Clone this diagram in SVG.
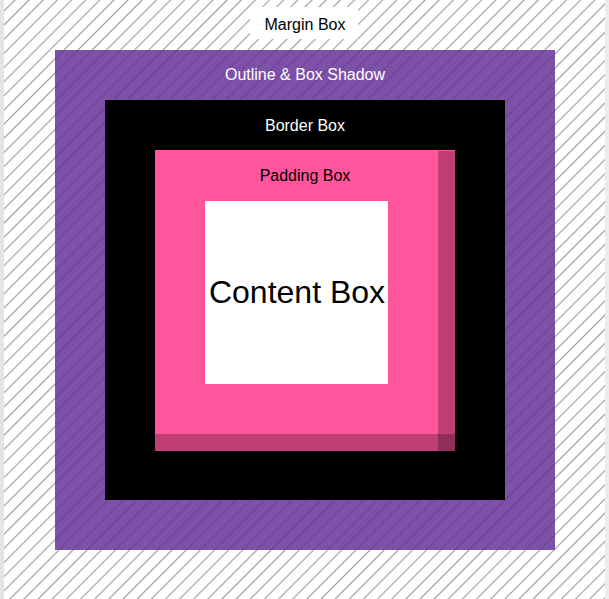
<svg xmlns="http://www.w3.org/2000/svg" width="609" height="599" viewBox="0 0 609 599">
  <style>
    .lbl { font-family: "Liberation Sans", Arial, sans-serif; font-size: 16px; text-anchor: middle; }
    .white { fill: #ffffff; }
    .black { fill: #000000; }
    .big { font-family: "Liberation Sans", Arial, sans-serif; font-size: 32px; text-anchor: middle; fill: #000000; }
    .shadow { fill: #000000; fill-opacity: 0.25; }
  </style>
  <defs>
    <pattern id="hatch" patternUnits="userSpaceOnUse" width="10" height="10" patternTransform="rotate(45)">
      <rect x="0" y="0" width="1.1" height="10" fill="#9a9a9a"/>
    </pattern>
  </defs>
  <rect x="0" y="0" width="609" height="599" fill="#ffffff"/>
  <rect x="0" y="0" width="4" height="599" fill="#e4e4e4"/>
  <rect x="605" y="0" width="4" height="599" fill="#ececec"/>
  <g id="margin-box">
    <rect x="4" y="0" width="601" height="599" fill="url(#hatch)"/>
    <rect x="250" y="7" width="108" height="32" fill="#ffffff"/>
    <text class="lbl black" x="305" y="30">Margin Box</text>
  </g>
  <g id="outline-box">
    <rect x="55" y="50" width="500" height="500" fill="#663399" fill-opacity="0.85"/>
    <text class="lbl white" x="305" y="80">Outline &amp; Box Shadow</text>
  </g>
  <g id="border-box">
    <rect x="105" y="100" width="400" height="400" fill="#000000"/>
    <text class="lbl white" x="305" y="131">Border Box</text>
  </g>
  <g id="padding-box">
    <rect x="155" y="150" width="300" height="301" fill="#ff559c"/>
    <rect class="shadow" x="438" y="151" width="17" height="300"/>
    <rect class="shadow" x="155" y="434" width="300" height="17"/>
    <text class="lbl black" x="305" y="181">Padding Box</text>
  </g>
  <g id="content-box">
    <rect x="205" y="201" width="183" height="183" fill="#ffffff"/>
    <text class="big" x="297" y="303">Content Box</text>
  </g>
  <g id="connectors"></g>
</svg>
